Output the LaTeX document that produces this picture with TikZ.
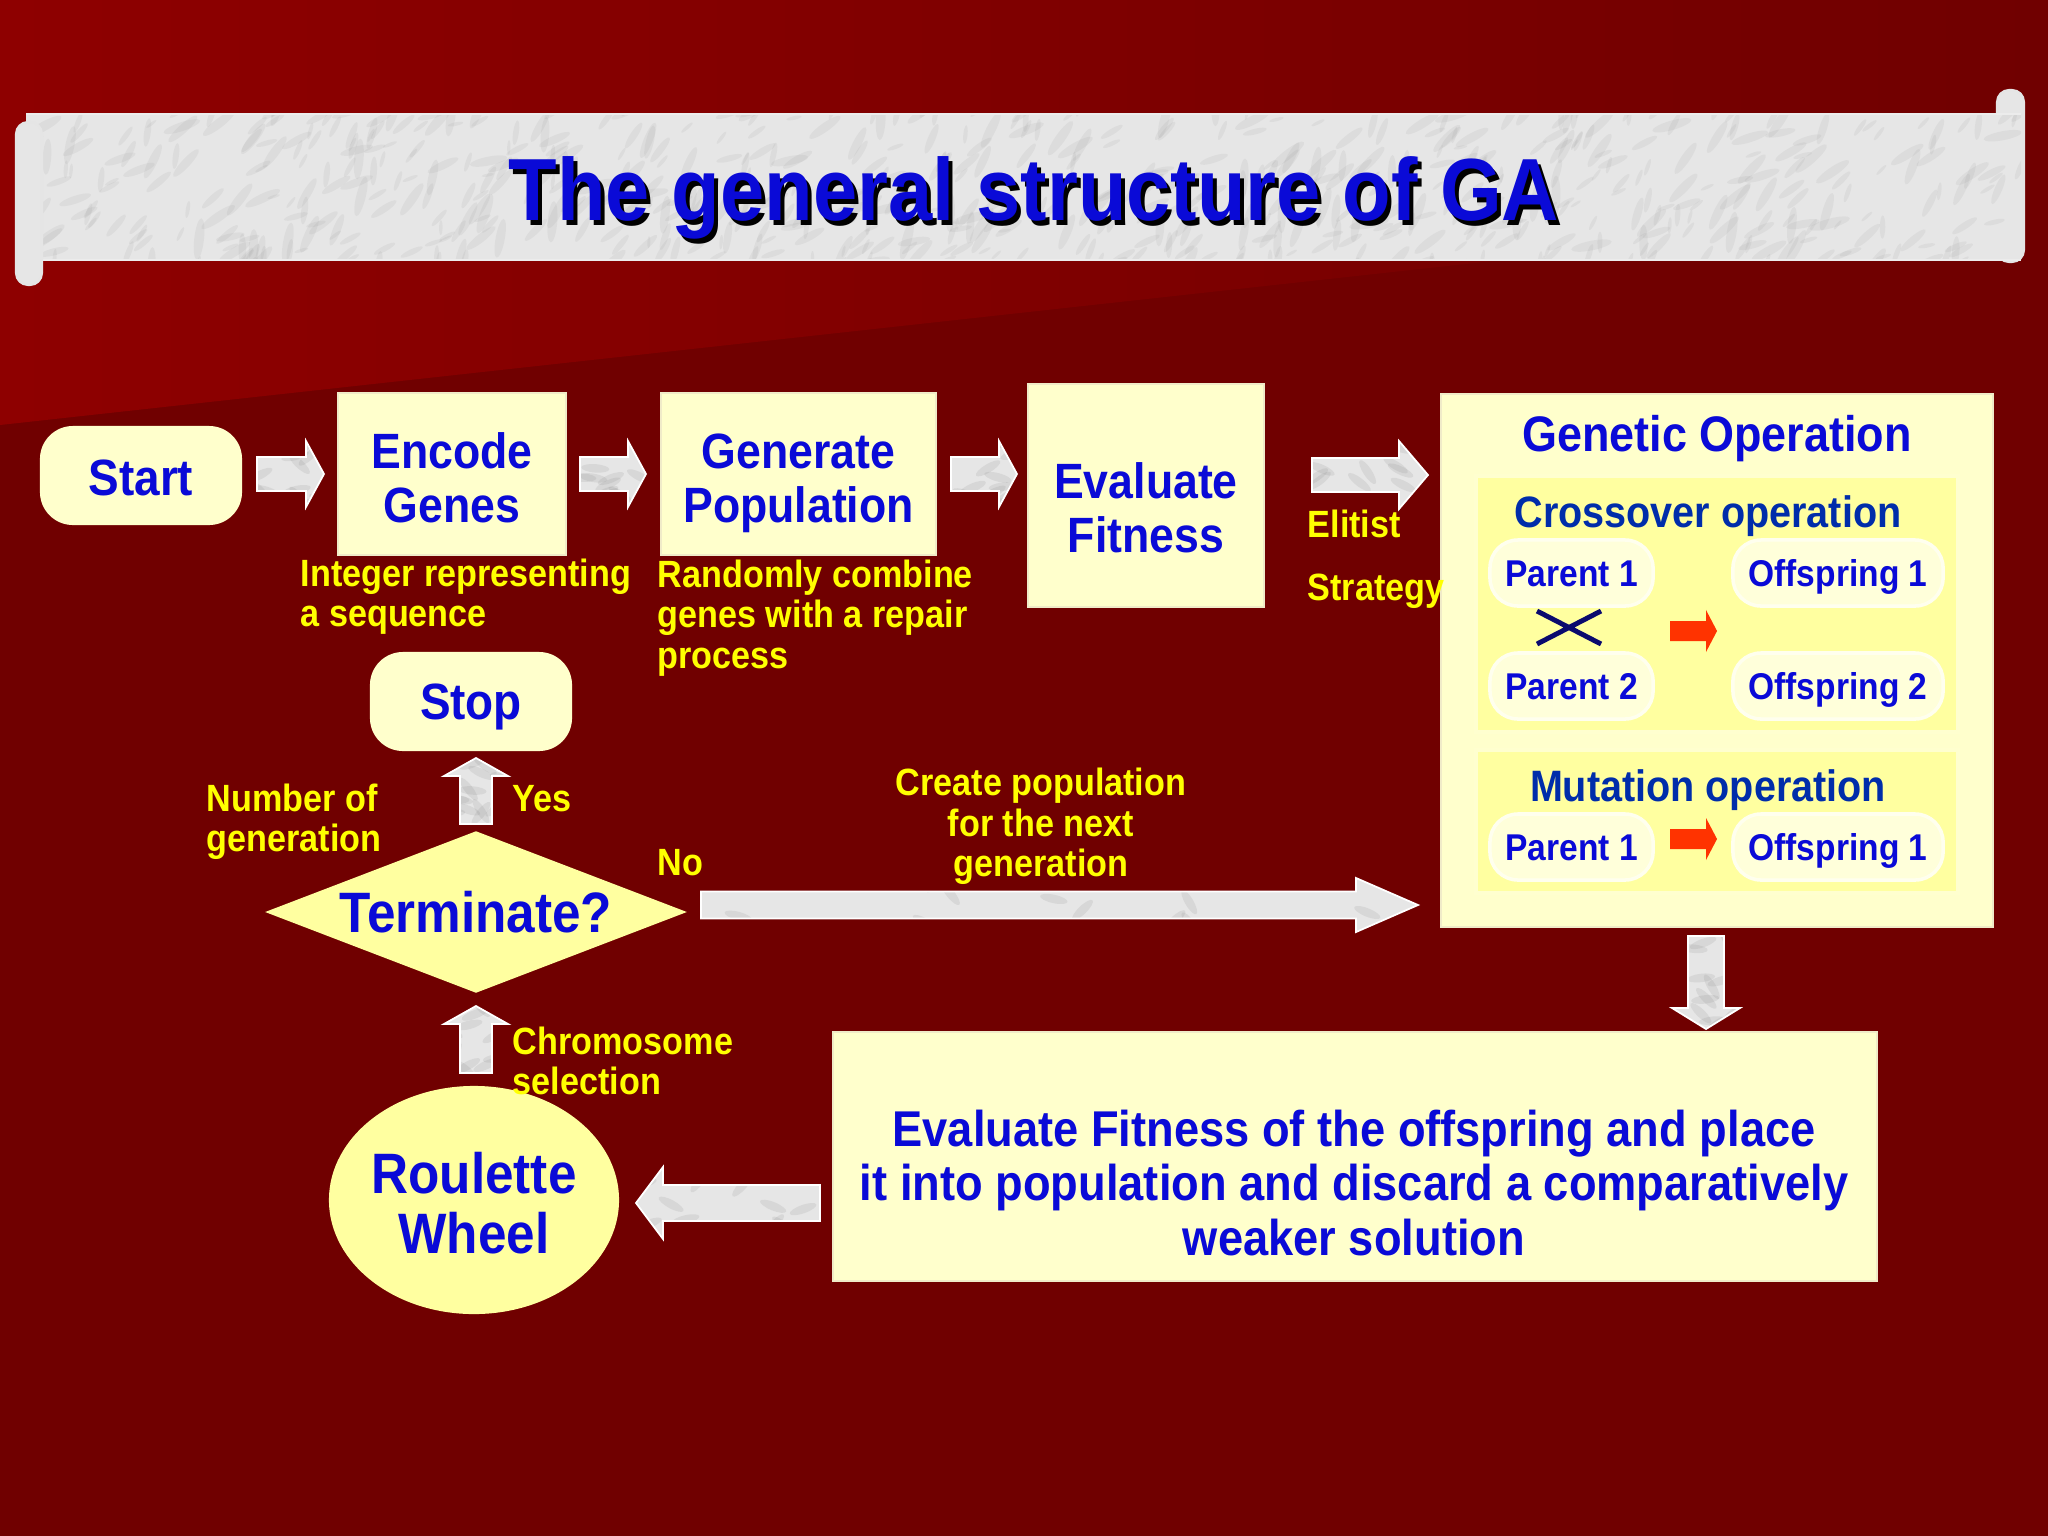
\documentclass[tikz,border=0pt]{standalone}
\usepackage{fontspec}
\setmainfont{Liberation Sans}[FakeStretch=0.9]
\usetikzlibrary{shapes.geometric,calc}
\definecolor{bgdark}{RGB}{112,0,0}
\definecolor{bgtop}{RGB}{142,0,0}
\definecolor{boxfill}{RGB}{255,255,204}
\definecolor{subfill}{RGB}{255,255,160}
\definecolor{yelfill}{RGB}{255,255,160}
\definecolor{pillfill}{RGB}{255,255,218}
\definecolor{txtblue}{RGB}{10,10,215}
\definecolor{headblue}{RGB}{0,45,170}
\definecolor{lblyellow}{RGB}{255,255,0}
\definecolor{marblefill}{RGB}{230,230,230}
\definecolor{redarr}{RGB}{255,51,0}
\definecolor{navyx}{RGB}{10,10,110}
\newcommand\fsz[2]{\fontsize{#1}{#2}\selectfont}
\newcommand\blockarrow[6][marble]{%
  \path[#1] let \p1=(#2), \p2=(#3),
    \n2={veclen(\x2-\x1,\y2-\y1)},
    \n3={(\x2-\x1)/\n2}, \n4={(\y2-\y1)/\n2},
    \n5={#4*0.28453}, \n6={#5*0.28453}, \n8={\n2-#6*0.28453}
  in ({\x1+\n5*\n4},{\y1-\n5*\n3})
  -- ({\x1+\n8*\n3+\n5*\n4},{\y1+\n8*\n4-\n5*\n3})
  -- ({\x1+\n8*\n3+\n6*\n4},{\y1+\n8*\n4-\n6*\n3})
  -- (\p2)
  -- ({\x1+\n8*\n3-\n6*\n4},{\y1+\n8*\n4+\n6*\n3})
  -- ({\x1+\n8*\n3-\n5*\n4},{\y1+\n8*\n4+\n5*\n3})
  -- ({\x1-\n5*\n4},{\y1+\n5*\n3}) -- cycle;
}
\tikzset{
  procbox/.style={draw={rgb,255:red,240;green,235;blue,200}, line width=0.6pt, fill=boxfill, inner sep=0pt},
  boxtext/.style={text=txtblue, align=center, inner sep=0pt, font=\bfseries\fsz{14.1}{15.4}},
  termstyle/.style={rounded corners=0.33cm, fill=boxfill, minimum width=2.02cm, minimum height=0.99cm, inner sep=0pt},
  termtext/.style={text=txtblue, font=\bfseries\fsz{14.5}{17}, inner sep=0pt},
  pill/.style={rounded corners=0.28cm, fill=pillfill, draw=white!55!pillfill, line width=1pt, text=txtblue, font=\bfseries\fsz{10.6}{12}, minimum height=0.66cm, inner sep=0pt, text height=9.2pt, text depth=1.6pt},
  subbox/.style={fill=subfill, draw=white!50!subfill, line width=1pt, minimum width=4.82cm, inner sep=0pt},
  subhead/.style={text=headblue, font=\bfseries\fsz{12.5}{14}, inner sep=0pt},
  ylabel/.style={text=lblyellow, font=\bfseries\fsz{10.8}{11.5}, inner sep=0pt, align=left},
  marble/.style={fill=marblefill, draw=white, line width=0.5pt,
    path picture={
      \foreach \k in {1,...,14}{
        \fill[gray, opacity=0.14] let \p1=(path picture bounding box.south west), \p2=(path picture bounding box.north east), \n1={rnd}, \n2={rnd}, \n3={60*rand} in
          [rotate around={\n3:({\x1+\n1*(\x2-\x1)},{\y1+\n2*(\y2-\y1)})}] ({\x1+\n1*(\x2-\x1)},{\y1+\n2*(\y2-\y1)}) ellipse [x radius=4pt, y radius=1.2pt];
      }
    }},
  redarrow/.style={fill=redarr},
}
\begin{document}
\begin{tikzpicture}[x=0.01cm,y=-0.01cm]
\useasboundingbox (0,0) rectangle (2048,1536);
% background
\fill[bgdark] (0,0) rectangle (2048,1536);
\shade[left color=bgtop, right color=bgdark] (0,0) -- (2048,0) -- (2048,200) -- (0,425) -- cycle;
% title banner
\fill[marblefill, draw=white!80!gray, line width=0.6pt, rounded corners=0.12cm] (1997,90) rectangle (2024,262);
\fill[marblefill] (26,114) rectangle (2021,260);
\pgfmathsetseed{7}
\begin{scope}
  \clip (26,114) rectangle (2021,260);
  \foreach \i in {1,...,700}{
    \pgfmathsetmacro\xx{1024+1000*rand}
    \pgfmathsetmacro\yy{187+80*rand}
    \pgfmathsetmacro\rr{2+5*rnd}
    \pgfmathsetmacro\aa{50+40*rand}
    \fill[gray, opacity=0.09, rotate around={\aa:(\xx,\yy)}] (\xx,\yy) ellipse [x radius={\rr*0.03cm}, y radius={\rr*0.007cm}];
  }
\end{scope}
\draw[white!85!gray, line width=0.8pt] (26,114) -- (2021,114) (26,260) -- (2021,260);
\fill[marblefill, draw=white!80!gray, line width=0.6pt, rounded corners=0.12cm] (16,122) rectangle (42,285);
\node[text=black, font=\bfseries\fsz{25.1}{28}] (titleshadow) at (1038,203) {The general structure of GA};
\node[text=txtblue, font=\bfseries\fsz{25.1}{28}] (title) at (1034,198) {The general structure of GA};
% main nodes
\node[termstyle] (start) at (141,475.5) {};
\node[termtext] (starttxt) at (141,478) {Start};
\node[procbox, minimum width=2.28cm, minimum height=1.62cm] (enc) at (452,474) {};
\node[boxtext] (enctxt) at (452,478) {Encode\\Genes};
\node[procbox, minimum width=2.75cm, minimum height=1.62cm] (gen) at (798.5,474) {};
\node[boxtext] (gentxt) at (798.5,483) {Generate\\Population};
\node[procbox, minimum width=2.35cm, minimum height=2.23cm] (evalf) at (1146,495.5) {};
\node[boxtext] (evalftxt) at (1146,507.5) {Evaluate\\Fitness};
\node[procbox, minimum width=5.51cm, minimum height=5.33cm] (genop) at (1717,660.5) {};
\node[text=txtblue, font=\bfseries\fsz{14.2}{15}, inner sep=0pt] (genoptitle) at (1717,439) {Genetic Operation};
\node[subbox, minimum height=2.56cm] (cross) at (1717,604) {};
\node[subhead] (crosstitle) at (1708,516) {Crossover operation};
\node[pill, minimum width=1.63cm] (p1) at (1571.5,573) {Parent 1};
\node[pill, minimum width=2.10cm] (o1) at (1838,573) {Offspring 1};
\node[pill, minimum width=1.63cm] (p2) at (1571.5,686) {Parent 2};
\node[pill, minimum width=2.10cm] (o2) at (1838,686) {Offspring 2};
\node[subbox, minimum height=1.43cm] (mut) at (1717,821.5) {};
\node[subhead] (muttitle) at (1708,790) {Mutation operation};
\node[pill, minimum width=1.63cm] (mp1) at (1571.5,847) {Parent 1};
\node[pill, minimum width=2.10cm] (mo1) at (1838,847) {Offspring 1};
\draw[navyx, line width=1.4pt] (1537,611) -- (1601,644) (1537,644) -- (1601,611);
\node[procbox, minimum width=10.44cm, minimum height=2.49cm] (final) at (1355,1156.5) {};
\node[text=txtblue, font=\bfseries\fsz{14.3}{15.6}, align=center, inner sep=0pt] (finaltxt) at (1354,1183) {Evaluate Fitness of the offspring and place\\it into population and discard a comparatively\\weaker solution};
\node[ellipse, fill=yelfill, minimum width=2.9cm, minimum height=2.28cm, inner sep=0pt] (roul) at (474,1200) {};
\node[text=txtblue, align=center, inner sep=0pt, font=\bfseries\fsz{16.2}{17}] (roultxt) at (474,1203) {Roulette\\Wheel};
\node[diamond, aspect=2.6, fill=yelfill, minimum width=4.22cm, minimum height=1.62cm, inner sep=0pt, text=txtblue, font=\bfseries\fsz{16.2}{18}] (term) at (476,912) {Terminate?};
\node[termstyle] (stop) at (471,701.5) {};
\node[termtext] (stoptxt) at (471,706.5) {Stop};
% labels
\node[ylabel, anchor=west] (lint) at (300,596.5) {Integer representing\\a sequence};
\node[ylabel, anchor=west] (lrand) at (657,618) {Randomly combine\\genes with a repair\\process};
\node[ylabel, anchor=west] (lelit) at (1307,524) {Elitist};
\node[ylabel, anchor=west] (lstrat) at (1307,591) {Strategy};
\node[ylabel, anchor=west] (lnum) at (206,821.5) {Number of\\generation};
\node[ylabel, anchor=west] (lyes) at (512,799) {Yes};
\node[ylabel, anchor=west] (lno) at (657,863) {No};
\node[ylabel, align=center] (lcreate) at (1041,826.5) {Create population\\for the next\\generation};
\node[ylabel, anchor=west] (lchrom) at (512,1061) {Chromosome\\selection};
% arrow end points
\coordinate (a1s) at (257,474); \coordinate (a1e) at (324,474);
\coordinate (a2s) at (580,474); \coordinate (a2e) at (646,474);
\coordinate (a3s) at (951,474); \coordinate (a3e) at (1017,474);
\coordinate (a4s) at (1312,475); \coordinate (a4e) at (1428,475);
\coordinate (ads) at (1706,936); \coordinate (ade) at (1706,1029);
\coordinate (als) at (820,1203); \coordinate (ale) at (636,1203);
\coordinate (aus) at (476,1073); \coordinate (aue) at (476,1006);
\coordinate (ays) at (476,824); \coordinate (aye) at (476,758);
\coordinate (ans) at (701,905); \coordinate (ane) at (1418,905);
\coordinate (r1s) at (1670,631); \coordinate (r1e) at (1717,631);
\coordinate (r2s) at (1670,839); \coordinate (r2e) at (1717,839);
% arrows
\blockarrow{a1s}{a1e}{17}{33}{18}
\blockarrow{a2s}{a2e}{17}{33}{18}
\blockarrow{a3s}{a3e}{17}{33}{18}
\blockarrow{a4s}{a4e}{17}{34}{29}
\blockarrow{ads}{ade}{18}{34}{21}
\blockarrow{als}{ale}{18}{36}{27}
\blockarrow{aus}{aue}{16}{32}{18}
\blockarrow{ays}{aye}{16}{32}{18}
\blockarrow{ans}{ane}{13.5}{27}{62}
\blockarrow[redarrow]{r1s}{r1e}{10}{21}{11}
\blockarrow[redarrow]{r2s}{r2e}{10}{21}{11}
\end{tikzpicture}
\end{document}
